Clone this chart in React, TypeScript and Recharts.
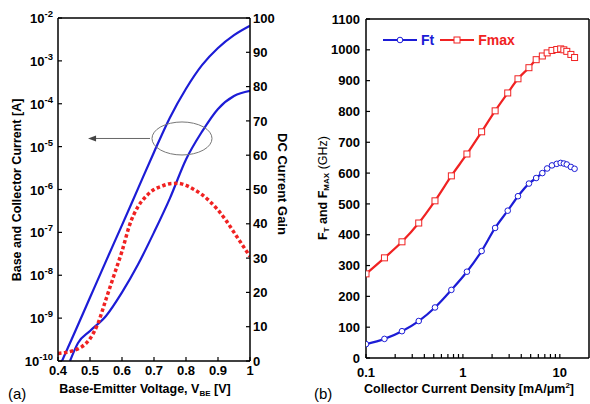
import React from "react";
import { LineChart, Line, XAxis, YAxis, ReferenceDot, ReferenceLine, Label } from "recharts";

const FONT = "'Liberation Sans', Arial, Helvetica, sans-serif";
const BLUE = "#1c1cd6";
const RED = "#f02222";
const AXIS = { stroke: "#000", strokeWidth: 1.5 };
const TICK_LINE = { stroke: "#000", strokeWidth: 1.2 };
const TICK_TEXT = { fontFamily: FONT, fontSize: 13, fontWeight: "bold", fill: "#000" };

// (a) Gummel plot: currents as log10(A), gain on right axis
const VBE_IC = [0.4125, 0.45, 0.5, 0.55, 0.6, 0.65, 0.7, 0.75, 0.8, 0.85, 0.9, 0.95, 1.0];
const LOG_IC = [-10, -9.37, -8.52, -7.67, -6.83, -5.98, -5.13, -4.32, -3.65, -3.1, -2.7, -2.4, -2.18];
const VBE_IB = [0.4375, 0.4625, 0.5, 0.55, 0.6, 0.65, 0.7, 0.75, 0.8, 0.85, 0.9, 0.95, 1.0];
const LOG_IB = [-10, -9.58, -9.3, -8.95, -8.4, -7.75, -7.0, -6.2, -5.3, -4.65, -4.12, -3.82, -3.7];
const VBE_GAIN = [0.4, 0.425, 0.45, 0.475, 0.5, 0.525, 0.55, 0.575, 0.6, 0.625, 0.65, 0.675, 0.7,
  0.725, 0.75, 0.775, 0.8, 0.825, 0.85, 0.875, 0.9, 0.925, 0.95, 0.975, 1.0];
const GAIN = [2.2, 2.5, 3.1, 4.2, 6.5, 11, 18, 25, 32, 40, 45, 48, 50,
  51, 51.7, 51.8, 51.2, 50, 48.5, 46.5, 44, 41, 37.5, 34, 30.5];
const VBE_TICKS = [0.4, 0.5, 0.6, 0.7, 0.8, 0.9, 1];
const CURRENT_EXP = [-10, -9, -8, -7, -6, -5, -4, -3, -2];
const GAIN_TICKS = [0, 10, 20, 30, 40, 50, 60, 70, 80, 90, 100];

// (b) fT / fmax vs collector current density
const JC = [0.1, 0.155, 0.235, 0.35, 0.515, 0.76, 1.1, 1.56, 2.15, 2.9, 3.7, 4.8, 5.7, 6.6,
  7.4, 8.3, 9.3, 10.2, 11.0, 11.8, 13.0, 14.2];
const FT = [45, 62, 87, 120, 164, 221, 280, 347, 422, 478, 525, 566, 584, 600,
  615, 625, 630, 633, 631, 628, 620, 614];
const FMAX = [273, 325, 377, 438, 510, 591, 662, 734, 802, 860, 906, 942, 968, 980,
  990, 998, 1001, 1003, 1000, 995, 985, 975];
const JC_TICKS = [0.1, 0.2, 0.3, 0.4, 0.5, 0.6, 0.7, 0.8, 0.9, 1, 2, 3, 4, 5, 6, 7, 8, 9, 10];
const JC_LABELS = [0.1, 1, 10];
const F_TICKS = [0, 100, 200, 300, 400, 500, 600, 700, 800, 900, 1000, 1100];

const icData = VBE_IC.map((v, k) => ({ v, i: 10 ** LOG_IC[k] }));
const ibData = VBE_IB.map((v, k) => ({ v, i: 10 ** LOG_IB[k] }));
const gainData = VBE_GAIN.map((v, k) => ({ v, g: GAIN[k] }));
const fData = JC.map((j, k) => ({ j, ft: FT[k], fmax: FMAX[k] }));

function PowTick({ x, y, payload }: any) {
  const e = Math.round(Math.log10(payload.value));
  return (
    <text x={x} y={y} dy={5} textAnchor="end" {...TICK_TEXT}>
      10<tspan dy={-6} fontSize={9.5}>{e}</tspan>
    </text>
  );
}

function DecadeTick({ x, y, payload }: any) {
  if (!JC_LABELS.some((m) => Math.abs(m - payload.value) < 1e-9)) return <g />;
  return (
    <text x={x} y={y} dy="0.71em" textAnchor="middle" {...TICK_TEXT}>
      {payload.value}
    </text>
  );
}

function Arrow(p: any) {
  const { x1, y1, x2, y2 } = p;
  return (
    <g>
      <line x1={x1} y1={y1} x2={x2 + 6} y2={y2} stroke="#666" strokeWidth={1} />
      <path d={`M${x2},${y2} l8,-3 l0,6 z`} fill="#444" />
    </g>
  );
}

function GummelPanel() {
  return (
    <LineChart width={300} height={404} margin={{ top: 17, right: 10, bottom: 13, left: 0 }}>
      <XAxis xAxisId="b" type="number" dataKey="v" domain={[0.4, 1]} ticks={VBE_TICKS} allowDataOverflow
        height={30} interval={0} axisLine={AXIS} tickLine={TICK_LINE} tickSize={-4} tickMargin={9} tick={TICK_TEXT}>
        <Label content={() => (
          <text x={145} y={393} textAnchor="middle" fontFamily={FONT} fontSize={12.5} fontWeight="bold">
            Base-Emitter Voltage, V<tspan dy={3} fontSize={8}>BE</tspan><tspan dy={-3}> [V]</tspan>
          </text>
        )} />
      </XAxis>
      <XAxis xAxisId="t" orientation="top" type="number" domain={[0.4, 1]} ticks={VBE_TICKS} allowDataOverflow
        height={1} interval={0} axisLine={AXIS} tickLine={TICK_LINE} tickSize={-4} tick={false} />
      <YAxis yAxisId="l" type="number" scale="log" domain={[1e-10, 1e-2]} allowDataOverflow
        ticks={CURRENT_EXP.map((e) => 10 ** e)} interval={0} width={58}
        axisLine={AXIS} tickLine={TICK_LINE} tickSize={-4} tickMargin={9} tick={<PowTick />}>
        <Label content={() => (
          <text x={17} y={190} transform="rotate(-90 17 190)" textAnchor="middle" dominantBaseline="central"
            fontFamily={FONT} fontSize={12.5} fontWeight="bold">
            Base and Collector Current [A]
          </text>
        )} />
      </YAxis>
      <YAxis yAxisId="r" orientation="right" type="number" domain={[0, 100]} ticks={GAIN_TICKS} interval={0}
        width={40} axisLine={AXIS} tickLine={TICK_LINE} tickSize={-4} tickMargin={7}
        tick={{ ...TICK_TEXT, textAnchor: "start" }}>
        <Label content={() => (
          <text x={282} y={184} transform="rotate(90 282 184)" textAnchor="middle" dominantBaseline="central"
            fontFamily={FONT} fontSize={13} fontWeight="bold">
            DC Current Gain
          </text>
        )} />
      </YAxis>
      <Line xAxisId="b" yAxisId="l" data={icData} dataKey="i" stroke={BLUE} strokeWidth={2.2} dot={false}
        type="monotone" isAnimationActive={false} />
      <Line xAxisId="b" yAxisId="l" data={ibData} dataKey="i" stroke={BLUE} strokeWidth={2.2} dot={false}
        type="monotone" isAnimationActive={false} />
      <Line xAxisId="b" yAxisId="r" data={gainData} dataKey="g" stroke={RED} strokeWidth={3.5}
        strokeDasharray="3.5 2.5" dot={false} type="monotone" isAnimationActive={false} />
      <ReferenceDot xAxisId="b" yAxisId="l" x={0.7875} y={10 ** -4.81}
        shape={(p: any) => <ellipse cx={p.cx} cy={p.cy} rx={30} ry={16.5} fill="none" stroke="#777" strokeWidth={1} />} />
      <ReferenceLine xAxisId="b" yAxisId="l" segment={[{ x: 0.6875, y: 10 ** -4.81 }, { x: 0.494, y: 10 ** -4.81 }]}
        shape={Arrow} />
    </LineChart>
  );
}

function SquareDot(p: any) {
  if (p.cx == null || p.cy == null) return <g key={p.key} />;
  return <rect key={p.key} x={p.cx - 3} y={p.cy - 3} width={6} height={6} fill="#fff" stroke={RED} strokeWidth={1} />;
}

function FreqLegend() {
  const item = (color: string, label: string, square: boolean) => (
    <span style={{ display: "inline-flex", alignItems: "center", marginRight: 6 }}>
      <svg width={34} height={10} style={{ marginRight: 4 }}>
        <line x1={0} y1={5} x2={34} y2={5} stroke={color} strokeWidth={2} />
        {square
          ? <rect x={14} y={2} width={6} height={6} fill="#fff" stroke={color} strokeWidth={1} />
          : <circle cx={17} cy={5} r={2.8} fill="#fff" stroke={color} strokeWidth={1} />}
      </svg>
      <span style={{ color, fontFamily: FONT, fontWeight: "bold", fontSize: 14 }}>{label}</span>
    </span>
  );
  return (
    <div style={{ position: "absolute", left: 383, top: 32, display: "flex", alignItems: "center" }}>
      {item(BLUE, "Ft", false)}
      {item(RED, "Fmax", true)}
    </div>
  );
}

function FreqPanel() {
  return (
    <LineChart width={290} height={404} data={fData} margin={{ top: 17, right: 0, bottom: 16, left: 0 }}>
      <XAxis xAxisId="b" type="number" dataKey="j" scale="log" domain={[0.1, 20]} ticks={JC_TICKS} allowDataOverflow
        height={30} interval={0} axisLine={AXIS} tickLine={TICK_LINE} tickSize={-4} tickMargin={14} tick={<DecadeTick />}>
        <Label content={() => (
          <text x={169} y={393} textAnchor="middle" fontFamily={FONT} fontSize={12.5} fontWeight="bold">
            Collector Current Density [mA/μm<tspan dy={-5} fontSize={8}>2</tspan><tspan dy={5}>]</tspan>
          </text>
        )} />
      </XAxis>
      <XAxis xAxisId="t" orientation="top" type="number" dataKey="j" scale="log" domain={[0.1, 20]} ticks={JC_TICKS}
        allowDataOverflow height={2} interval={0} axisLine={AXIS} tickLine={TICK_LINE} tickSize={-4} tick={false} />
      <YAxis yAxisId="l" type="number" domain={[0, 1100]} ticks={F_TICKS} interval={0} width={66}
        axisLine={AXIS} tickLine={TICK_LINE} tickSize={-4} tickMargin={10} tick={TICK_TEXT}>
        <Label content={() => (
          <text x={23} y={188} transform="rotate(-90 23 188)" textAnchor="middle" dominantBaseline="central"
            fontFamily={FONT} fontSize={12.5} fontWeight="bold">
            F<tspan dy={3} fontSize={8}>T</tspan><tspan dy={-3}> and F</tspan><tspan dy={3} fontSize={8}>MAX</tspan>
            <tspan dy={-3} fontWeight="normal"> (GHz)</tspan>
          </text>
        )} />
      </YAxis>
      <YAxis yAxisId="r" orientation="right" type="number" domain={[0, 1100]} ticks={F_TICKS} interval={0} width={1}
        axisLine={AXIS} tickLine={TICK_LINE} tickSize={-4} tick={false} />
      <Line xAxisId="b" yAxisId="l" dataKey="ft" stroke={BLUE} strokeWidth={2.2} type="monotone"
        dot={{ r: 2.8, fill: "#fff", stroke: BLUE, strokeWidth: 1 }} isAnimationActive={false} />
      <Line xAxisId="b" yAxisId="l" dataKey="fmax" stroke={RED} strokeWidth={2.2} type="monotone"
        dot={<SquareDot />} isAnimationActive={false} />
    </LineChart>
  );
}

export default function App() {
  return (
    <div style={{ position: "absolute", left: 0, top: 0, width: 590, height: 404, background: "#fff", overflow: "hidden" }}>
      <div style={{ position: "absolute", left: 0, top: 0 }}>
        <GummelPanel />
      </div>
      <div style={{ position: "absolute", left: 300, top: 0 }}>
        <FreqPanel />
      </div>
      <FreqLegend />
      <div style={{ position: "absolute", left: 8, top: 385, fontFamily: FONT, fontSize: 15 }}>(a)</div>
      <div style={{ position: "absolute", left: 314, top: 385, fontFamily: FONT, fontSize: 15 }}>(b)</div>
    </div>
  );
}
